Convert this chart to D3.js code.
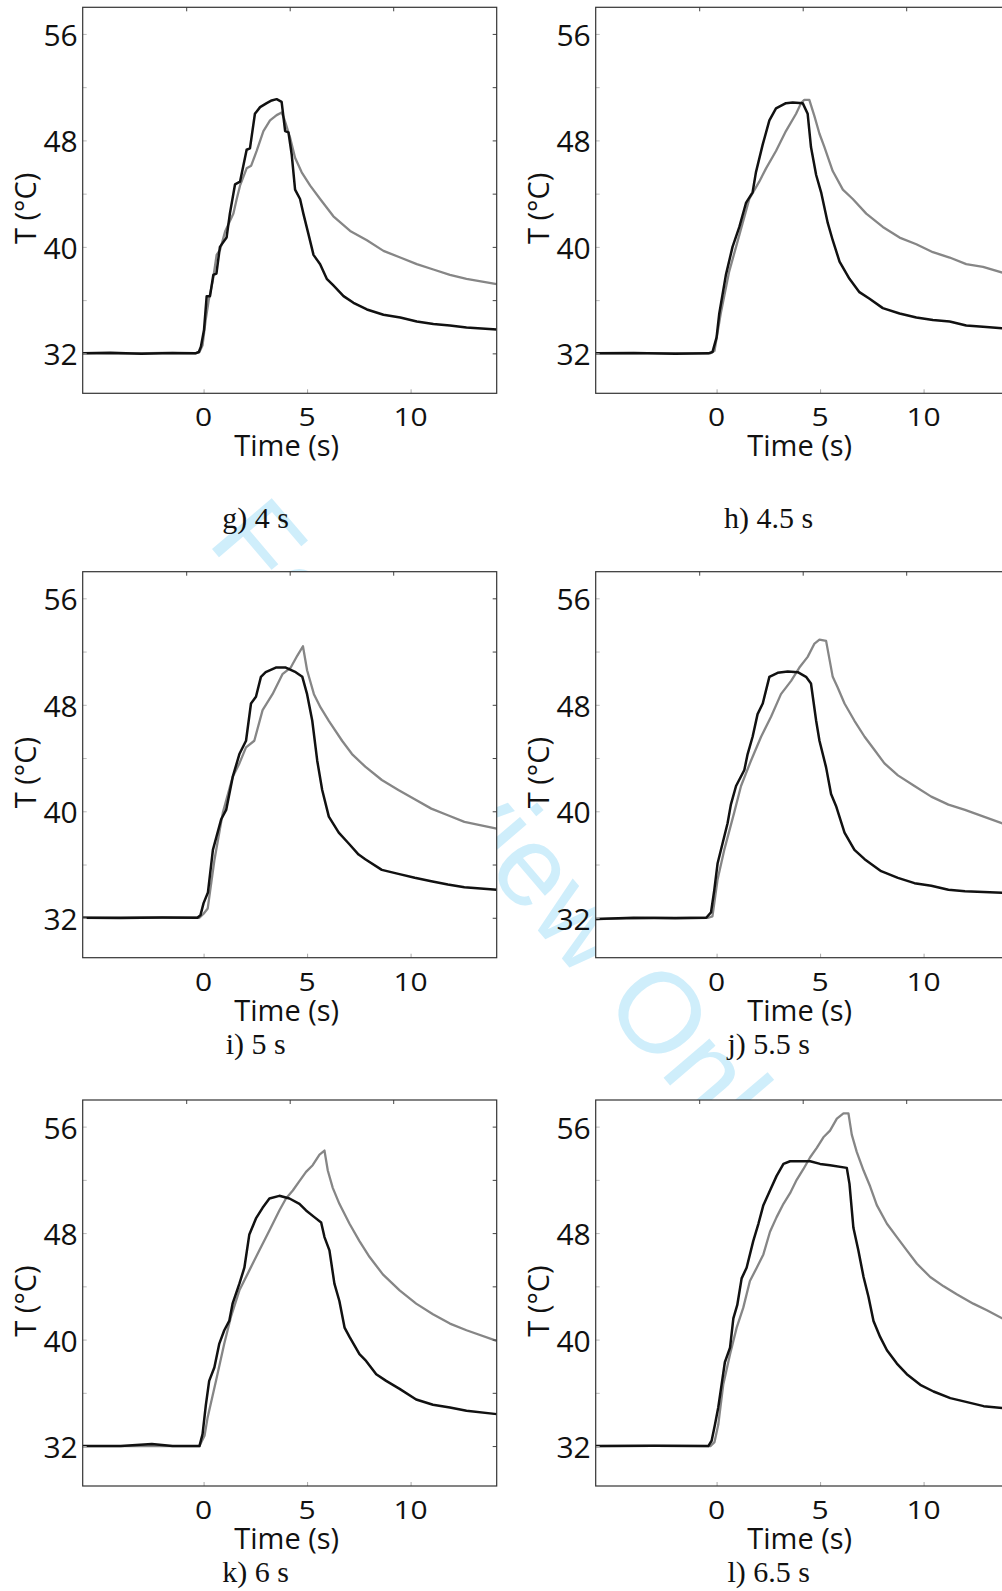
<!DOCTYPE html>
<html><head><meta charset="utf-8">
<script src="https://cdn.jsdelivr.net/npm/d3@7"></script>
<style>body{margin:0;background:#fff} svg{display:block}</style>
</head><body>
<svg id="chart" width="1002" height="1591"></svg>
<script>
// ---- data ----
const timeTicks = [0, 5, 10];
const tempTicks = [32, 36, 40, 44, 48, 52, 56];
const tempLabels = [32, 40, 48, 56];
const captions = ["g) 4 s", "h) 4.5 s", "i) 5 s", "j) 5.5 s", "k) 6 s", "l) 6.5 s"];
const xTitle = "Time (s)";
const yTitle = "T (°C)";
const watermark = "For Review Only";

const gBlack = [[-5.84,32.0],[-4.5,32.05],[-3,31.97],[-1.5,32.02],[-0.4,32.0],[-0.23,32.1],[-0.13,32.5],[0.02,33.75],[0.15,36.3],[0.31,36.3],[0.47,37.9],[0.62,38.0],[0.79,40.0],[1.11,40.7],[1.27,42.5],[1.52,44.7],[1.76,44.9],[2.08,47.3],[2.24,47.4],[2.48,50.0],[2.73,50.5],[3.05,50.8],[3.29,51.0],[3.53,51.1],[3.77,50.9],[3.94,48.7],[4.1,48.6],[4.26,46.9],[4.42,44.3],[4.66,43.6],[4.82,42.5],[5.06,41.0],[5.31,39.4],[5.63,38.7],[5.95,37.6],[6.27,37.1],[6.76,36.3],[7.24,35.8],[7.89,35.3],[8.69,34.9],[9.5,34.7],[10.3,34.4],[11.1,34.2],[11.9,34.1],[12.7,33.95],[14.16,33.8]];
const gGrey = [[-5.84,32.0],[-4,31.98],[-2,32.03],[-0.4,32.0],[-0.2,32.1],[-0.05,32.6],[0.1,34.5],[0.25,36.0],[0.45,37.5],[0.63,39.4],[0.8,39.8],[1.05,41.2],[1.44,42.5],[1.6,43.6],[1.76,44.6],[2.08,45.9],[2.3,46.1],[2.56,47.2],[2.89,48.7],[3.21,49.5],[3.53,49.9],[3.77,50.1],[3.9,49.6],[4.02,49.0],[4.18,48.2],[4.42,46.7],[4.74,45.6],[5.15,44.6],[5.63,43.6],[6.27,42.3],[7.08,41.2],[7.89,40.5],[8.69,39.7],[9.5,39.2],[10.3,38.7],[11.1,38.3],[11.9,37.9],[12.7,37.6],[14.16,37.2]];
const hBlack = [[-5.84,32.0],[-4,32.03],[-2,31.97],[-0.4,32.0],[-0.2,32.1],[0.0,33.2],[0.13,35.0],[0.45,37.9],[0.77,40.0],[1.1,41.5],[1.42,43.3],[1.74,44.1],[1.9,45.6],[2.23,47.7],[2.55,49.5],[2.87,50.4],[3.35,50.8],[3.68,50.85],[4.16,50.8],[4.4,50.0],[4.56,47.5],[4.81,45.4],[5.05,44.1],[5.37,41.8],[5.61,40.5],[5.94,38.9],[6.42,37.6],[6.9,36.6],[7.39,36.1],[8.03,35.4],[8.84,35.0],[9.65,34.7],[10.45,34.5],[11.26,34.4],[12.06,34.1],[12.87,34.0],[14.16,33.85]];
const hGrey = [[-5.84,32.0],[-3,32.02],[-0.3,32.0],[-0.1,32.2],[0.2,35.0],[0.6,38.1],[0.94,40.0],[1.26,41.8],[1.58,43.6],[2.06,44.9],[2.39,45.9],[2.87,47.2],[3.35,48.7],[3.84,50.0],[4.08,50.8],[4.24,51.05],[4.48,51.05],[4.73,49.8],[4.97,48.5],[5.21,47.5],[5.61,45.7],[6.1,44.3],[6.58,43.6],[7.23,42.5],[8.03,41.5],[8.84,40.7],[9.65,40.2],[10.45,39.6],[11.26,39.2],[12.06,38.7],[12.87,38.5],[14.16,37.9]];
const iBlack = [[-5.84,32.0],[-4,31.98],[-2,32.02],[-0.3,32.0],[-0.15,32.2],[0.0,33.1],[0.21,33.9],[0.45,37.1],[0.85,39.4],[1.09,40.1],[1.41,42.6],[1.73,44.3],[2.05,45.3],[2.29,48.1],[2.53,48.6],[2.77,50.1],[3.0,50.45],[3.49,50.8],[3.97,50.8],[4.45,50.45],[4.77,50.1],[5.0,48.8],[5.25,46.8],[5.49,43.8],[5.73,41.6],[6.05,39.6],[6.53,38.4],[7.0,37.6],[7.49,36.75],[7.81,36.4],[8.61,35.6],[9.41,35.3],[10.2,35.0],[11.0,34.75],[11.8,34.5],[12.6,34.3],[14.16,34.1]];
const iGrey = [[-5.84,32.0],[-3,32.02],[-0.2,32.0],[0.0,32.3],[0.2,32.7],[0.53,36.4],[0.93,39.9],[1.41,42.6],[1.73,43.6],[2.05,44.8],[2.45,45.3],[2.85,47.6],[3.33,48.8],[3.81,50.3],[4.21,50.8],[4.53,51.7],[4.8,52.4],[5.0,50.6],[5.33,48.8],[5.65,47.8],[6.05,46.8],[6.69,45.3],[7.17,44.3],[7.81,43.35],[8.61,42.35],[9.41,41.6],[10.2,40.9],[11.0,40.2],[11.8,39.7],[12.6,39.2],[14.16,38.7]];
const jBlack = [[-5.84,31.9],[-4,32.0],[-2,31.97],[-0.5,32.0],[-0.27,32.4],[-0.11,34.1],[0.05,36.1],[0.29,37.6],[0.53,39.1],[0.69,40.5],[0.94,41.9],[1.34,43.1],[1.5,44.3],[1.74,45.6],[1.98,47.3],[2.23,48.1],[2.55,50.1],[2.95,50.4],[3.44,50.5],[3.92,50.45],[4.32,50.1],[4.56,49.6],[4.81,46.8],[4.97,45.3],[5.29,43.3],[5.53,41.3],[5.77,40.4],[6.18,38.4],[6.66,37.1],[7.15,36.4],[7.95,35.5],[8.76,35.0],[9.56,34.6],[10.37,34.4],[11.2,34.1],[12.0,34.0],[14.16,33.85]];
const jGrey = [[-5.84,31.9],[-3,32.0],[-0.4,32.0],[-0.2,32.1],[0.05,34.9],[0.37,37.1],[0.85,39.9],[1.18,41.9],[1.66,43.8],[2.15,45.6],[2.63,47.1],[3.11,48.8],[3.6,49.8],[4.0,50.8],[4.4,51.6],[4.73,52.6],[4.97,52.9],[5.29,52.8],[5.61,50.1],[5.85,49.3],[6.18,48.1],[6.66,46.8],[7.15,45.6],[7.63,44.6],[8.11,43.6],[8.76,42.7],[9.56,41.9],[10.37,41.1],[11.2,40.5],[12.0,40.1],[14.16,38.9]];
const kBlack = [[-5.84,32.0],[-4,32.0],[-2.5,32.15],[-1.5,32.0],[-0.2,32.0],[-0.05,32.9],[0.11,35.1],[0.27,36.9],[0.52,37.9],[0.76,39.7],[1.0,40.7],[1.24,41.4],[1.4,42.7],[1.73,44.2],[1.97,45.4],[2.21,47.9],[2.53,49.1],[2.85,49.9],[3.18,50.6],[3.66,50.8],[4.15,50.6],[4.63,50.2],[4.95,49.7],[5.35,49.2],[5.68,48.8],[5.84,47.7],[6.08,46.7],[6.32,44.2],[6.56,42.9],[6.81,40.9],[7.05,40.2],[7.53,38.9],[7.85,38.4],[8.34,37.4],[8.82,36.9],[9.47,36.3],[10.27,35.5],[11.08,35.1],[11.9,34.9],[12.7,34.65],[14.16,34.4]];
const kGrey = [[-5.84,32.0],[-3,32.0],[-0.2,32.0],[0.05,32.8],[0.19,34.1],[0.6,36.9],[1.0,39.7],[1.32,41.7],[1.73,43.7],[2.21,45.2],[2.69,46.7],[3.18,48.2],[3.66,49.7],[3.98,50.6],[4.31,51.2],[4.63,51.9],[4.95,52.6],[5.27,53.1],[5.6,53.9],[5.84,54.2],[6.0,52.7],[6.24,51.4],[6.56,50.2],[7.05,48.7],[7.53,47.4],[8.02,46.2],[8.66,44.9],[9.47,43.7],[10.27,42.7],[11.08,41.9],[11.9,41.2],[12.7,40.7],[14.16,39.9]];
const lBlack = [[-5.84,32.0],[-3,32.02],[-0.4,32.0],[-0.24,32.4],[-0.08,33.6],[0.08,34.9],[0.24,36.6],[0.4,38.3],[0.65,39.4],[0.81,41.6],[1.0,42.6],[1.21,44.6],[1.45,45.4],[1.77,47.4],[2.02,48.7],[2.26,50.1],[2.58,51.2],[2.9,52.3],[3.23,53.2],[3.55,53.4],[4.03,53.4],[4.52,53.4],[5.0,53.2],[5.48,53.1],[6.29,52.9],[6.42,51.7],[6.61,48.4],[6.85,46.7],[7.1,44.7],[7.34,43.2],[7.58,41.4],[7.9,40.2],[8.23,39.2],[8.71,38.2],[9.19,37.4],[9.84,36.6],[10.48,36.1],[11.29,35.6],[12.1,35.3],[12.9,35.0],[14.16,34.8]];
const lGrey = [[-5.84,32.0],[-3,32.02],[-0.3,32.0],[-0.1,32.3],[0.08,33.6],[0.32,36.6],[0.65,38.9],[0.97,40.9],[1.29,42.4],[1.61,44.4],[1.94,45.4],[2.26,46.4],[2.58,48.1],[2.9,49.2],[3.23,50.2],[3.55,51.0],[3.87,52.0],[4.19,52.8],[4.52,53.7],[4.84,54.4],[5.16,55.2],[5.48,55.7],[5.81,56.6],[6.13,57.0],[6.37,57.0],[6.53,55.4],[6.77,54.1],[7.1,52.7],[7.42,51.5],[7.74,50.1],[8.23,48.7],[8.71,47.7],[9.19,46.7],[9.68,45.7],[10.32,44.7],[10.97,44.0],[11.6,43.4],[12.4,42.7],[13.06,42.2],[14.16,41.3]];

const blackSeries = [gBlack, hBlack, iBlack, jBlack, kBlack, lBlack];
const greySeries = [gGrey, hGrey, iGrey, jGrey, kGrey, lGrey];

// ---- layout ----
const W = 414, H = 386;
const colX = [82.7, 595.7];
const rowY = [7.3, 571.7, 1100];
const captionY = [528.3, 1053.5, 1581.7];
const sansFont = "'Open Sans', 'Noto Sans', sans-serif";
const serifFont = "'Liberation Serif', 'Times New Roman', serif";

const x = d3.scaleLinear().domain([-5.84, 14.16]).range([0, W]);
const xTop = d3.scaleLinear().domain([-5, 15]).range([0, W]);
const y = d3.scaleLinear().domain([29, 58]).range([H, 0]);
const line = d3.line().x(d => x(d[0])).y(d => y(d[1]));

const svg = d3.select("#chart");
svg.append("rect").attr("width", 1002).attr("height", 1591).attr("fill", "#fff");

// watermark (behind everything)
svg.append("text")
  .attr("transform", "translate(206,542) rotate(49.5)")
  .attr("font-family", "'Liberation Sans', Arial, sans-serif")
  .attr("font-size", 114)
  .attr("fill", "#cfeefb")
  .text(watermark);

captions.forEach((cap, i) => {
  const col = i % 2, row = Math.floor(i / 2);
  const g = svg.append("g").attr("transform", `translate(${colX[col]},${rowY[row]})`);
  g.append("rect").attr("width", W).attr("height", H).attr("fill", "#fff");
  const cid = "clip" + i;
  g.append("clipPath").attr("id", cid).append("rect").attr("width", W).attr("height", H);
  const plot = g.append("g").attr("clip-path", `url(#${cid})`);
  plot.append("path").datum(greySeries[i]).attr("d", line)
    .attr("fill", "none").attr("stroke", "#868686").attr("stroke-width", 2.3).attr("stroke-linejoin", "round");
  plot.append("path").datum(blackSeries[i]).attr("d", line)
    .attr("fill", "none").attr("stroke", "#111").attr("stroke-width", 2.5).attr("stroke-linejoin", "round");

  // ticks
  const left = g.append("g").call(d3.axisLeft(y).tickValues(tempTicks).tickSize(-4).tickFormat(""));
  left.select(".domain").remove();
  left.selectAll("line").attr("stroke", "#bbb");
  const right = g.append("g").attr("transform", `translate(${W},0)`)
    .call(d3.axisRight(y).tickValues(tempTicks).tickSize(-4).tickFormat(""));
  right.select(".domain").remove();
  right.selectAll("line").attr("stroke", "#444");
  const bottom = g.append("g").attr("transform", `translate(0,${H})`)
    .call(d3.axisBottom(x).tickValues(timeTicks).tickSize(-4).tickFormat(""));
  bottom.select(".domain").remove();
  bottom.selectAll("line").attr("stroke", "#aaa");
  const top = g.append("g").call(d3.axisTop(xTop).tickValues(timeTicks).tickSize(-4).tickFormat(""));
  top.select(".domain").remove();
  top.selectAll("line").attr("stroke", "#444");

  g.append("rect").attr("width", W).attr("height", H)
    .attr("fill", "none").attr("stroke", "#333").attr("stroke-width", 1.2);

  // tick labels
  g.selectAll(".ylab").data(tempLabels).join("text")
    .attr("x", -5).attr("y", d => y(d)).attr("dy", "0.4em")
    .attr("text-anchor", "end").attr("font-family", sansFont).attr("font-size", 30)
    .attr("fill", "#111").text(d => d);
  g.selectAll(".xlab").data(timeTicks).join("text")
    .attr("transform", d => `translate(${x(d)},${H + 33}) scale(1,0.85)`)
    .attr("text-anchor", "middle").attr("font-family", sansFont).attr("font-size", 30)
    .attr("fill", "#111").text(d => d);

  // axis titles
  g.append("text").attr("x", 204).attr("y", H + 63).attr("text-anchor", "middle")
    .attr("font-family", sansFont).attr("font-size", 29).attr("fill", "#111").text(xTitle);
  g.append("text").attr("transform", `translate(-46.5,${H / 2 + 8}) rotate(-90)`)
    .attr("text-anchor", "middle").attr("font-family", sansFont).attr("font-size", 29)
    .attr("fill", "#111").text(yTitle);

  // caption
  svg.append("text").attr("x", colX[col] + 173).attr("y", captionY[row])
    .attr("text-anchor", "middle").attr("font-family", serifFont).attr("font-size", 30)
    .attr("fill", "#111").text(cap);
});
</script>
</body></html>
